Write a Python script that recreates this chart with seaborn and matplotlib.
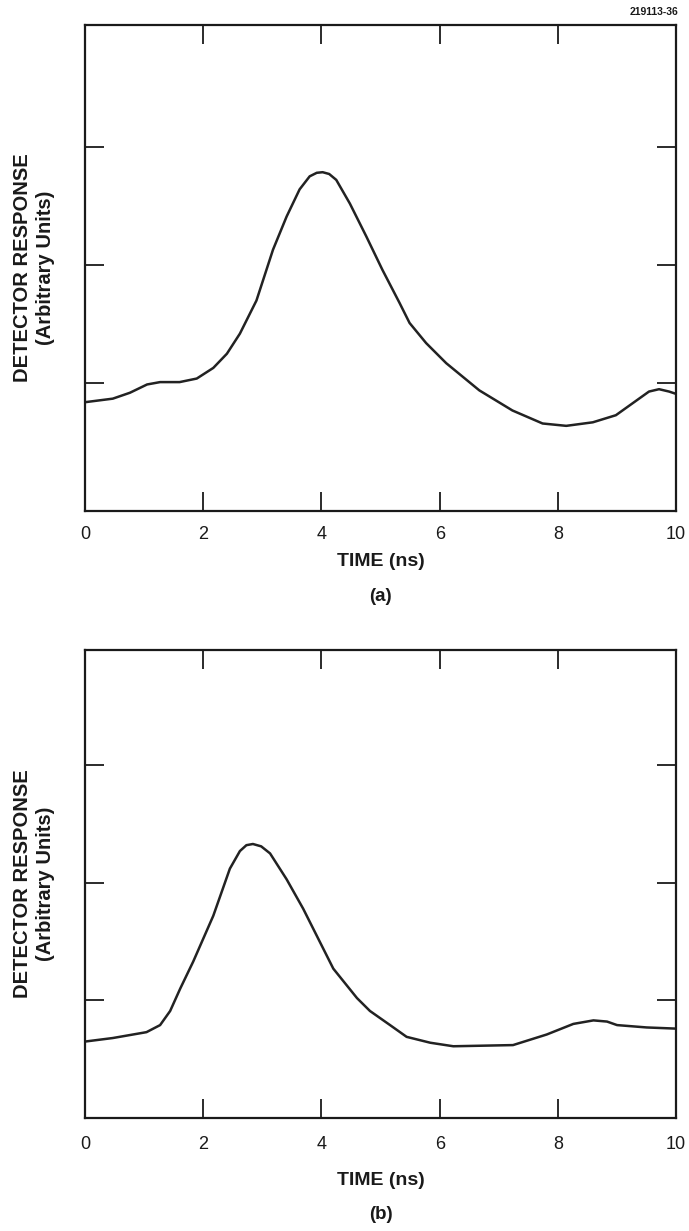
import numpy as np
import pandas as pd
import seaborn as sns
from matplotlib import pyplot as plt

# panel (a): time (ns) and detector response (arbitrary units)
time_a = [0.0, 0.47, 0.76, 1.05, 1.27, 1.6, 1.89, 2.17, 2.4, 2.62, 2.9, 3.18, 3.41,
          3.63, 3.8, 3.92, 4.02, 4.13, 4.25, 4.48, 4.76, 5.03, 5.32, 5.49, 5.77, 6.11,
          6.67, 7.23, 7.74, 8.14, 8.59, 8.98, 9.26, 9.54, 9.71, 9.88, 10.0]
resp_a = [0.84, 0.87, 0.92, 0.99, 1.01, 1.01, 1.04, 1.13, 1.25, 1.42, 1.70, 2.13, 2.41,
          2.64, 2.75, 2.78, 2.785, 2.77, 2.72, 2.52, 2.24, 1.96, 1.68, 1.51, 1.34, 1.17,
          0.94, 0.77, 0.66, 0.64, 0.67, 0.73, 0.83, 0.93, 0.95, 0.93, 0.91]

# panel (b)
time_b = [0.0, 0.47, 1.04, 1.27, 1.44, 1.61, 1.83, 2.17, 2.45, 2.62, 2.73, 2.84, 2.98,
          3.13, 3.41, 3.69, 3.92, 4.2, 4.6, 4.82, 5.16, 5.44, 5.84, 6.23, 7.24, 7.81,
          8.26, 8.6, 8.83, 9.0, 9.5, 10.0]
resp_b = [0.65, 0.68, 0.73, 0.79, 0.91, 1.10, 1.33, 1.72, 2.12, 2.27, 2.32, 2.33, 2.31,
          2.25, 2.03, 1.78, 1.55, 1.27, 1.02, 0.91, 0.79, 0.69, 0.64, 0.61, 0.62, 0.71,
          0.80, 0.83, 0.82, 0.79, 0.77, 0.76]

x_ticks = [0, 2, 4, 6, 8, 10]
y_ticks = [1, 2, 3]
panel_tags = ["(a)", "(b)"]

sns.set_style("ticks")
plt.rcParams['font.family'] = ['Liberation Sans', 'DejaVu Sans']

fig = plt.figure(figsize=(6.89, 12.31), dpi=100)
ax_a = fig.add_axes([0.1234, 0.5849, 0.858, 0.3948])
ax_b = fig.add_axes([0.1234, 0.0918, 0.858, 0.3802])

# (axes, data, y limits, tick pad, xlabel pad, tag y offset in px below axis)
panels = [
    (ax_a, pd.DataFrame({"t": time_a, "r": resp_a}), (-0.08, 4.03), 11, 7, 86),
    (ax_b, pd.DataFrame({"t": time_b, "r": resp_b}), (0.0, 3.98), 13, 14, 97),
]

for (ax, df, ylim, tpad, lpad, tag_off), tag in zip(panels, panel_tags):
    sns.lineplot(data=df, x="t", y="r", ax=ax, color="#222222", linewidth=1.8,
                 solid_joinstyle="round", solid_capstyle="round")
    ax.set_xlim(0, 10)
    ax.set_ylim(*ylim)
    ax.set_xticks(x_ticks)
    ax.set_yticks(y_ticks)
    ax.set_yticklabels([])
    ax.tick_params(direction="in", length=14, width=1.3, color="#1a1a1a",
                   top=True, right=True, labelsize=13)
    ax.tick_params(axis="x", pad=tpad, labelcolor="#1a1a1a")
    for sp in ax.spines.values():
        sp.set_linewidth(1.6)
        sp.set_color("#1a1a1a")
    ax.set_xlabel("TIME (ns)", fontsize=14, fontweight="bold", labelpad=lpad,
                  color="#1a1a1a")
    ax.set_ylabel("DETECTOR RESPONSE\n(Arbitrary Units)", fontsize=14.5,
                  fontweight="bold", linespacing=1.3, color="#1a1a1a")
    ax.yaxis.set_label_coords(-0.05, 0.5)
    h_px = ax.get_position().height * fig.get_figheight() * fig.dpi
    ax.text(0.5, -tag_off / h_px, tag, transform=ax.transAxes, ha="center",
            va="center", fontsize=13.5, fontweight="bold", color="#1a1a1a")

fig.text(0.985, 0.990, "219113-36", ha="right", va="center", fontsize=7.5,
         fontweight="bold", color="#1a1a1a")

fig.savefig("out.png", dpi=100)
